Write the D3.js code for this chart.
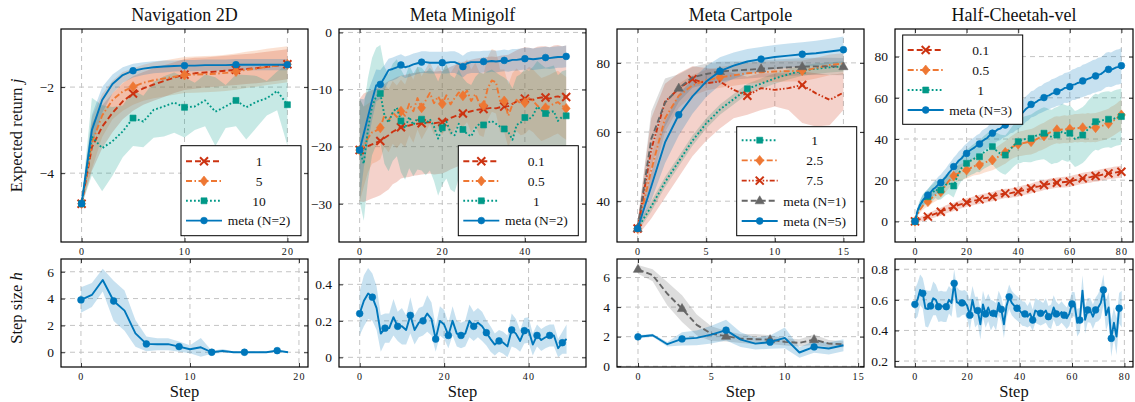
<!DOCTYPE html>
<html lang="en">
<head>
<meta charset="utf-8">
<title>Step size adaptation</title>
<script src="https://cdn.jsdelivr.net/npm/d3@7"></script>
<style>
  body { margin: 0; background: #fff; }
  svg text { font-family: "Liberation Serif", "Times New Roman", serif; fill: #111; }
</style>
</head>
<body>
<svg id="chart" width="1135" height="402"></svg>
<script>
// ---------- data ----------
// Navigation 2D, expected return, steps 0..20
const navSteps = d3.range(21);
const navH1 = [-4.71,-3.40,-2.92,-2.60,-2.33,-2.15,-2.03,-1.94,-1.86,-1.78,-1.71,-1.68,-1.66,-1.64,-1.62,-1.60,-1.58,-1.56,-1.53,-1.50,-1.47];
const navH1Sd = [0.05,0.55,0.5,0.45,0.42,0.4,0.38,0.38,0.37,0.36,0.36,0.36,0.35,0.35,0.35,0.35,0.35,0.35,0.35,0.35,0.35];
const navH5 = [-4.71,-3.30,-2.66,-2.30,-2.10,-1.99,-1.90,-1.84,-1.80,-1.76,-1.72,-1.71,-1.70,-1.69,-1.67,-1.64,-1.60,-1.57,-1.53,-1.50,-1.47];
const navH5Sd = [0.05,0.6,0.5,0.45,0.45,0.42,0.42,0.42,0.42,0.42,0.42,0.42,0.42,0.42,0.42,0.42,0.42,0.42,0.42,0.42,0.42];
const navH10 = [-4.71,-3.15,-3.42,-3.26,-3.03,-2.72,-2.80,-2.53,-2.45,-2.36,-2.47,-2.45,-2.31,-2.57,-2.45,-2.31,-2.47,-2.34,-2.26,-2.09,-2.41];
const navH10Sd = [0.05,0.9,1.0,0.8,0.6,0.65,0.6,0.65,0.7,0.7,0.7,0.55,0.6,0.8,0.5,0.6,0.75,0.6,0.4,0.45,0.95];
const navMeta = [-4.71,-3.00,-2.30,-1.93,-1.72,-1.62,-1.57,-1.54,-1.52,-1.51,-1.50,-1.50,-1.49,-1.49,-1.49,-1.48,-1.48,-1.48,-1.48,-1.48,-1.48];
const navMetaSd = [0.08,0.35,0.3,0.22,0.18,0.16,0.15,0.14,0.14,0.13,0.13,0.13,0.13,0.13,0.13,0.13,0.13,0.13,0.13,0.13,0.13];

// Meta Minigolf, expected return, steps 0..50
const golfSteps = d3.range(51);
const golfH01 = [-20.6,-20.2,-19.9,-19.6,-19.3,-19.0,-18.5,-18.0,-17.4,-17.0,-16.6,-16.4,-16.3,-16.1,-16.0,-15.9,-15.8,-15.7,-15.9,-15.8,-15.7,-15.4,-15.0,-14.7,-14.4,-14.2,-14.0,-13.8,-13.6,-13.5,-13.4,-13.3,-13.2,-13.3,-13.1,-13.0,-12.9,-12.5,-12.1,-11.8,-11.6,-11.7,-11.8,-11.5,-11.4,-11.4,-11.6,-11.3,-11.2,-11.4,-11.3];
const golfH01Sd = [9,9.5,9.5,9.5,9.5,9.5,9.5,9.5,9.2,9.2,9,9,9,9,9,9,9,9,9,9,9,9,9,9,9,9,9,9,9,9,9,9,9,9,9,9,9,9,9,9,9,9,9,9,9,9,9,9,9,9,9];
const golfH05 = [-20.6,-20.0,-18.5,-17.5,-17.2,-16.7,-14.5,-15.5,-14.0,-14.8,-13.8,-14.6,-12.5,-13.8,-11.5,-13.2,-11.9,-10.6,-12.4,-11.2,-12.5,-11.0,-12.6,-11.5,-10.5,-11.1,-10.2,-12.0,-10.8,-12.5,-12.8,-9.8,-8.4,-8.7,-12.0,-12.0,-14.6,-12.6,-11.8,-12.5,-12.3,-11.5,-12.0,-12.8,-13.5,-13.2,-12.9,-12.5,-12.2,-12.8,-13.3];
const golfH05Sd = [9,7,6,5.5,5.5,5.5,5.5,5.5,5.5,5.5,5.5,5.5,5.5,5.5,5.5,5.5,5.5,5.5,5.5,5.5,5.5,5.5,5.5,5.5,5.5,5.5,5.5,5.5,5.5,5.5,5.5,5.5,5.5,5.5,5.5,5.5,5.5,5.5,5.5,5.5,5.5,5.5,5.5,5.5,5.5,5.5,5.5,5.5,5.5,5.5,5.5];
const golfH1 = [-20.6,-23.0,-17.0,-13.0,-11.2,-10.7,-14.5,-15.8,-14.0,-13.2,-15.5,-16.8,-14.8,-16.2,-15.0,-15.2,-16.0,-15.2,-16.5,-18.6,-16.7,-15.6,-17.5,-18.0,-16.0,-17.0,-17.8,-18.2,-16.8,-16.0,-16.2,-15.8,-15.5,-16.0,-16.5,-16.9,-17.5,-18.8,-16.2,-15.8,-14.9,-15.2,-14.5,-13.0,-13.6,-14.2,-14.0,-13.8,-15.5,-14.8,-14.6];
const golfH1Sd = [9,10,9,8.5,8.5,8.5,8.5,8.5,8.5,8.5,9,9,9,9,9,9,9,9,9.5,10,10,10,10,10,9.5,9,9,9,9,9,9,9,9,9,9,9,9,9,8.5,8.5,8.5,8.5,8.5,8,8,8,8,8,8,8,8];
const golfMeta = [-20.6,-17.7,-14.8,-11.9,-9.3,-9.1,-7.9,-6.6,-6.4,-6.1,-5.7,-6.1,-5.9,-5.6,-5.4,-5.2,-5.2,-5.3,-5.3,-5.3,-5.3,-5.3,-5.2,-5.2,-5.5,-6.0,-5.4,-5.2,-5.2,-5.2,-5.1,-5.1,-5.0,-5.1,-5.0,-4.9,-5.0,-4.8,-4.8,-4.7,-4.6,-4.6,-4.7,-4.6,-4.5,-4.4,-4.5,-4.4,-4.3,-4.3,-4.2];
const golfMetaSd = [9,6,4.5,3.5,2.8,2.5,2.2,2,2,2,1.9,1.9,1.9,1.9,1.9,1.9,1.9,1.9,1.9,1.9,1.9,1.9,1.9,1.9,1.9,1.9,1.9,1.9,1.9,1.9,1.9,1.9,1.9,1.9,1.9,1.9,1.9,1.9,1.9,1.9,1.9,1.9,1.9,1.9,1.9,1.9,1.9,1.9,1.9,1.9,1.9];

// Meta Cartpole, expected return, steps 0..15
const cartSteps = d3.range(16);
const cartH1 = [32.1,38.5,45.5,51.5,57.5,62.5,66.5,69.5,72.5,74.0,75.5,76.7,77.8,78.3,78.7,79.0];
const cartH1Sd = [1,1.5,1.5,1.5,1.5,1.5,1.5,1.5,1.5,1.5,1.5,1.5,1.5,1.5,1.5,1.5];
const cartH25 = [32.1,49.0,64.0,70.5,73.5,75.0,75.8,76.4,77.0,77.3,77.5,77.6,77.7,78.5,79.4,79.8];
const cartH25Sd = [1,4,4,3.5,3,3,3,3,3,3,3,3,3,3,3,3];
const cartH75 = [32.1,55.0,68.8,72.5,75.3,74.1,74.6,72.2,70.5,72.7,72.2,72.7,73.6,71.2,69.3,71.4];
const cartH75Lo = [30,35,41,47,53,57.5,61,64,65,66.4,67.4,66.4,62.6,61.6,62,66.4];
const cartH75Hi = [34,64,74,77,79,78.5,78,77,76,77,77,77,77.5,77,76.5,77];
const cartMeta1 = [32.1,58.0,68.5,72.7,75.8,76.8,77.5,77.8,78.0,78.3,78.5,78.7,78.9,79.0,79.0,78.9];
const cartMeta1Sd = [1.5,8,7,4,3,3,2.8,2.6,2.5,2.5,2.5,2.5,2.5,2.5,2.5,2.5];
const cartMeta5 = [32.1,44.3,57.0,65.0,70.3,74.6,77.6,79.2,80.4,81.1,81.7,82.1,82.5,82.8,83.3,83.8];
const cartMeta5Sd = [1,4,6,6,5,4.5,4,3.8,3.6,3.5,3.5,3.5,3.5,3.6,3.7,3.8];

// Half-Cheetah-vel, expected return, steps 0..80
const cheeSteps = d3.range(81);
const cheeH01 = [0,0.6,1.1,1.5,2.0,2.3,2.9,3.3,3.8,4.2,4.7,5.3,5.8,6.3,6.6,7.1,7.6,8.0,8.4,8.6,9.2,9.4,9.8,10.1,10.3,10.7,11.1,11.3,11.5,11.8,12.0,12.4,12.8,13.0,13.3,13.6,13.5,13.7,14.0,14.1,14.4,14.8,15.1,15.4,15.6,16.0,16.5,16.8,17.0,17.3,17.7,17.9,18.2,18.4,18.6,18.8,18.9,19.0,19.1,19.2,19.3,19.7,20.0,20.3,20.6,20.9,21.1,21.3,21.5,21.8,22.0,22.2,22.5,22.8,23.0,23.3,23.4,23.6,23.8,24.0,24.1];
const cheeH01Sd = [0.5,1,1.2,1.3,1.4,1.5,1.6,1.7,1.8,1.8,1.9,1.9,2,2,2,2,2,2,2,2,2.1,2.1,2.1,2.1,2.1,2.2,2.2,2.2,2.2,2.2,2.2,2.3,2.3,2.3,2.3,2.3,2.3,2.3,2.3,2.4,2.4,2.4,2.4,2.4,2.4,2.4,2.4,2.5,2.5,2.5,2.5,2.5,2.5,2.5,2.5,2.5,2.5,2.6,2.6,2.6,2.6,2.6,2.6,2.6,2.6,2.7,2.7,2.7,2.7,2.7,2.7,2.8,2.8,2.8,2.8,2.8,2.8,2.9,2.9,2.9,2.9];
const cheeH05 = [0,3.5,5.8,7.5,8.8,9.6,10.8,11.9,12.8,13.7,14.4,16.0,17.8,19.5,20.8,22.0,22.8,23.5,24.0,24.5,24.9,25.5,26.2,26.8,27.0,27.4,28.0,28.5,29.0,29.5,29.8,30.5,31.2,32.0,32.8,33.5,34.5,35.5,36.3,37.0,37.5,37.8,38.0,38.3,38.5,38.7,39.2,39.8,40.5,41.0,41.5,42.2,43.0,43.6,44.2,44.5,44.3,44.6,44.8,44.6,44.8,45.0,45.3,45.2,45.4,45.5,45.3,45.6,45.4,45.5,45.5,45.9,46.2,46.6,47.0,47.5,48.3,49.0,49.8,50.8,51.7];
const cheeH05Sd = [0.5,1.2,1.6,2,2.2,2.5,2.7,2.9,3,3.1,3.2,3.3,3.4,3.5,3.6,3.7,3.8,3.9,4,4,4.1,4.2,4.3,4.4,4.5,4.6,4.7,4.8,4.9,5,5,5.1,5.2,5.3,5.4,5.5,5.5,5.6,5.7,5.8,5.9,6,6,6.1,6.1,6.2,6.2,6.3,6.3,6.4,6.4,6.5,6.5,6.5,6.6,6.6,6.6,6.7,6.7,6.7,6.8,6.8,6.8,6.9,6.9,6.9,7,7,7,7,7.1,7.1,7.1,7.2,7.2,7.2,7.3,7.3,7.3,7.4,7.4];
const cheeH1 = [0,5.0,8.0,10.0,11.3,12.0,13.5,14.2,15.5,14.8,15.2,16.5,17.8,18.5,17.9,17.2,20.5,23.4,25.8,27.0,28.2,29.0,29.8,30.5,31.5,31.4,32.8,33.8,34.6,35.5,36.3,35.0,33.8,33.0,32.5,32.2,33.5,35.0,36.5,37.8,38.7,39.2,39.8,40.0,40.1,40.3,41.0,41.6,42.0,42.5,42.8,42.2,41.5,41.0,41.6,41.9,42.5,43.5,43.0,42.5,42.8,41.5,40.0,40.5,41.2,41.9,43.2,44.8,46.2,47.5,48.4,48.0,48.8,49.2,49.5,49.6,49.2,49.8,50.3,50.6,50.9];
const cheeH1Sd = [0.5,2,2.5,3,3.2,3.5,3.8,4,4.2,4.4,4.6,4.8,5,5.2,5.4,5.6,5.8,6,6.2,6.4,6.6,6.8,7,7.2,7.4,7.6,7.8,8,8.2,8.4,8.6,8.8,9,9.2,9.4,9.6,9.8,10,10.2,10.4,10.6,10.8,11,11.2,11.4,11.6,11.8,12,12.2,12.4,12.6,12.8,13,13.2,13.4,13.6,13.6,13.6,13.6,13.6,13.6,13.6,13.6,13.6,13.6,13.6,13.6,13.6,13.6,13.6,13.6,13.6,13.6,13.6,13.6,13.6,13.6,13.6,13.6,13.6,13.6];
const cheeMeta = [0,5.2,8.1,10.2,11.6,12.8,14.0,15.6,16.5,17.9,18.8,20.3,21.6,23.4,24.8,26.6,27.9,29.6,30.5,32.1,33.0,34.2,35.0,35.8,36.9,37.6,38.9,39.8,40.5,41.9,42.8,43.5,44.6,45.0,46.1,46.8,47.5,48.6,49.0,50.1,50.7,52.0,53.1,54.6,55.5,56.8,57.2,58.0,58.9,59.3,60.1,60.8,61.2,62.0,62.4,63.0,63.5,63.9,64.8,64.9,65.4,66.3,66.5,67.2,67.5,68.2,68.6,69.2,69.6,70.3,70.6,71.2,71.5,72.4,73.5,73.8,73.6,74.2,74.8,75.0,75.6];
const cheeMetaSd = [0.5,1.5,2.2,2.6,2.8,3,3.2,3.4,3.6,3.8,4,4,4.2,4.2,4.4,4.4,4.5,4.5,4.6,4.6,4.8,4.8,5,5,5,5,5.2,5.2,5.2,5.4,5.4,5.4,5.6,5.6,5.6,5.8,5.8,5.8,6,6,6,6.2,6.2,6.2,6.4,6.4,6.4,6.6,6.6,6.6,6.8,6.8,6.8,7,7,7,7.2,7.2,7.2,7.4,7.4,7.4,7.6,7.6,7.6,7.8,7.8,7.8,8,8,8,8.2,8.2,8.2,8.4,8.4,8.4,8.5,8.5,8.6,8.6];

// step size h (bottom row)
const navHSteps = d3.range(20);
const navStep = [3.9,4.27,5.38,3.82,3.1,1.41,0.62,0.6,0.6,0.42,0.22,0.37,0.0,0.1,0.0,0.0,0.0,0.0,0.12,0.0];
const navStepSd = [0.95,0.9,0.85,1.5,1.5,1.0,0.55,0.45,0.45,0.38,0.3,0.7,0.12,0.15,0.06,0.05,0.05,0.05,0.08,0.05];

const golfHSteps = d3.range(50);
const golfStep = [0.24,0.31,0.35,0.33,0.27,0.13,0.16,0.16,0.22,0.17,0.17,0.15,0.23,0.15,0.19,0.20,0.24,0.21,0.10,0.20,0.18,0.12,0.20,0.13,0.12,0.13,0.20,0.17,0.19,0.17,0.135,0.10,0.07,0.09,0.08,0.06,0.15,0.13,0.09,0.146,0.15,0.07,0.12,0.095,0.11,0.12,0.12,0.05,0.08,0.10];
const golfStepSd = [0.12,0.14,0.14,0.13,0.12,0.1,0.08,0.08,0.1,0.08,0.1,0.08,0.1,0.08,0.08,0.08,0.1,0.09,0.07,0.08,0.08,0.07,0.08,0.07,0.07,0.07,0.09,0.08,0.08,0.08,0.07,0.07,0.06,0.06,0.06,0.06,0.09,0.08,0.06,0.07,0.07,0.06,0.06,0.06,0.06,0.06,0.06,0.05,0.06,0.08];

const cartHSteps = d3.range(15);
const cartStep1 = [6.55,6.15,4.9,3.9,2.8,2.2,2.03,1.87,1.83,1.8,1.65,1.58,1.8,1.53,1.49];
const cartStep1Sd = [0.3,0.4,0.8,0.9,0.7,0.5,0.35,0.3,0.35,0.3,0.25,0.25,0.35,0.25,0.2];
const cartStep5 = [1.99,2.1,1.49,1.85,1.92,2.14,2.44,1.8,1.53,1.63,1.92,0.93,1.31,1.2,1.42];
const cartStep5Sd = [0.1,0.1,0.15,0.45,0.5,0.6,0.7,0.5,0.4,0.45,0.7,0.35,0.4,0.4,0.4];

const cheeHSteps = d3.range(80);
const cheeStep = [0.571,0.60,0.665,0.643,0.545,0.54,0.56,0.61,0.60,0.555,0.56,0.555,0.555,0.60,0.58,0.708,0.585,0.575,0.58,0.585,0.56,0.50,0.60,0.52,0.53,0.44,0.57,0.508,0.55,0.50,0.512,0.49,0.58,0.538,0.44,0.56,0.62,0.58,0.56,0.545,0.53,0.51,0.508,0.49,0.51,0.468,0.53,0.52,0.512,0.51,0.53,0.49,0.49,0.55,0.508,0.50,0.52,0.50,0.48,0.51,0.573,0.57,0.45,0.468,0.66,0.47,0.534,0.53,0.49,0.534,0.55,0.58,0.665,0.50,0.55,0.348,0.45,0.36,0.545,0.54];
const cheeStepSd = [0.1,0.11,0.1,0.1,0.12,0.12,0.1,0.11,0.1,0.1,0.1,0.1,0.1,0.09,0.09,0.09,0.1,0.09,0.08,0.08,0.09,0.1,0.09,0.1,0.09,0.1,0.09,0.09,0.09,0.1,0.08,0.09,0.08,0.08,0.09,0.08,0.08,0.08,0.08,0.08,0.08,0.08,0.08,0.07,0.08,0.07,0.08,0.08,0.08,0.07,0.08,0.07,0.08,0.08,0.08,0.07,0.07,0.07,0.07,0.08,0.08,0.08,0.09,0.08,0.1,0.09,0.08,0.08,0.08,0.08,0.09,0.1,0.1,0.1,0.1,0.12,0.1,0.12,0.1,0.12];

// ---------- look ----------
const SERIF = "'Liberation Serif', 'Times New Roman', serif";
const COL = { blue: "#0077bb", teal: "#009988", orange: "#ee7733", red: "#cc3311", grey: "#666666" };
const DASH = { solid: null, dashed: "6,3", dashdot: "6,2.5,1.5,2.5", dotted: "1.8,2.2", dashdotdot: "5,2,1.5,2,1.5,2" };

const svg = d3.select("#chart");
const cols = [[61, 308], [339, 586], [617, 864], [895, 1133]];
const topRow = [29, 242], botRow = [259, 367];
const fmt = v => (v < 0 ? "\u2212" : "") + Math.abs(v);

function markerPath(type) {
  if (type === "x") return "M-4,-4L4,4M-4,4L4,-4";
  if (type === "diamond") return "M0,-5L4,0L0,5L-4,0Z";
  if (type === "square") return "M-3,-3L3,-3L3,3L-3,3Z";
  if (type === "triangle") return "M0,-5L4.6,3L-4.6,3Z";
  return d3.symbol(d3.symbolCircle, 36)();
}
function drawMarker(g, type, cx, cy, color) {
  const p = g.append("path").attr("d", markerPath(type)).attr("transform", `translate(${cx},${cy})`);
  if (type === "x") p.attr("fill", "none").attr("stroke", color).attr("stroke-width", 2);
  else p.attr("fill", color).attr("stroke", color).attr("stroke-width", 0.6);
}

let clipId = 0;
function drawPanel(p) {
  const [x0, x1] = cols[p.col];
  const [y0, y1] = p.row === "top" ? topRow : botRow;
  const x = d3.scaleLinear().domain(p.xDom).range([x0, x1]);
  const y = d3.scaleLinear().domain(p.yDom).range([y1, y0]);
  const g = svg.append("g");

  const id = "clip" + (clipId++);
  svg.append("clipPath").attr("id", id).append("rect")
    .attr("x", x0).attr("y", y0).attr("width", x1 - x0).attr("height", y1 - y0);

  // grid
  g.append("g").selectAll("line").data(p.xTicks).join("line")
    .attr("x1", d => x(d)).attr("x2", d => x(d)).attr("y1", y0).attr("y2", y1)
    .attr("stroke", "#c4c4c4").attr("stroke-dasharray", "5,4");
  g.append("g").selectAll("line").data(p.yTicks).join("line")
    .attr("y1", d => y(d)).attr("y2", d => y(d)).attr("x1", x0).attr("x2", x1)
    .attr("stroke", "#c4c4c4").attr("stroke-dasharray", "5,4");

  const plot = g.append("g").attr("clip-path", `url(#${id})`);
  // bands
  p.series.forEach(s => {
    const lo = s.lo || s.y.map((v, i) => v - s.sd[i]);
    const hi = s.hi || s.y.map((v, i) => v + s.sd[i]);
    const area = d3.area().x((d, i) => x(s.x[i])).y0((d, i) => y(lo[i])).y1((d, i) => y(hi[i]));
    plot.append("path").datum(s.y).attr("d", area)
      .attr("fill", s.band || s.color).attr("fill-opacity", 0.22);
  });
  // lines and marks
  p.series.forEach(s => {
    const line = d3.line().x((d, i) => x(s.x[i])).y(d => y(d));
    plot.append("path").datum(s.y).attr("d", line)
      .attr("fill", "none").attr("stroke", s.color).attr("stroke-width", 1.9)
      .attr("stroke-linejoin", "round")
      .attr("stroke-dasharray", DASH[s.dash]);
    const marks = s.marks || s.y.map((d, i) => i).filter(i => i % s.every === 0);
    marks.forEach(i => drawMarker(plot, s.mark, x(s.x[i]), y(s.y[i]), s.color));
  });

  // axes: labels outside left/bottom, short ticks inside on all sides
  const styleAxis = (ax, size) => {
    ax.attr("font-family", SERIF);
    ax.select(".domain").remove();
    ax.selectAll(".tick line").attr("stroke", "#333");
    ax.selectAll("text").attr("font-family", SERIF).attr("font-size", size).attr("fill", "#111");
  };
  const ay = g.append("g").attr("transform", `translate(${x0},0)`)
    .call(d3.axisLeft(y).tickValues(p.yTicks).tickSize(-4).tickPadding(7).tickFormat(fmt));
  styleAxis(ay, 13.5);
  const ayr = g.append("g").attr("transform", `translate(${x1},0)`)
    .call(d3.axisRight(y).tickValues(p.yTicks).tickSize(-4).tickFormat(""));
  styleAxis(ayr, 1);
  const ax = g.append("g").attr("transform", `translate(0,${y1})`)
    .call(d3.axisBottom(x).tickValues(p.xTicks).tickSize(-4).tickPadding(6).tickFormat(fmt));
  styleAxis(ax, 10);
  ax.selectAll("text").attr("letter-spacing", "1.2px");
  const axt = g.append("g").attr("transform", `translate(0,${y0})`)
    .call(d3.axisTop(x).tickValues(p.xTicks).tickSize(-4).tickFormat(""));
  styleAxis(axt, 1);

  g.append("rect").attr("x", x0).attr("y", y0).attr("width", x1 - x0).attr("height", y1 - y0)
    .attr("fill", "none").attr("stroke", "#000").attr("stroke-width", 1.2);

  if (p.title) {
    g.append("text").attr("x", (x0 + x1) / 2).attr("y", 21).attr("text-anchor", "middle")
      .attr("font-size", 18).text(p.title);
  }
  if (p.row === "bottom") {
    g.append("text").attr("x", (x0 + x1) / 2).attr("y", 397).attr("text-anchor", "middle")
      .attr("font-size", 16.5).text("Step");
  }

  if (p.legend) {
    const L = p.legend;
    const lg = g.append("g");
    lg.append("rect").attr("x", L.x).attr("y", L.y).attr("width", 120).attr("height", L.h)
      .attr("fill", "#fff").attr("stroke", "#000").attr("stroke-width", 1);
    L.order.forEach((k, j) => {
      const s = p.series[k];
      const ey = L.y + L.first + j * L.gap;
      lg.append("line").attr("x1", L.x + 5).attr("x2", L.x + 41).attr("y1", ey).attr("y2", ey)
        .attr("stroke", s.color).attr("stroke-width", 1.9).attr("stroke-dasharray", DASH[s.dash]);
      drawMarker(lg, s.mark, L.x + 23, ey, s.color);
      lg.append("text").attr("x", L.x + 78).attr("y", ey).attr("dy", "0.35em")
        .attr("text-anchor", "middle").attr("font-size", 13.5).text(s.label);
    });
  }
}

const panels = [
  { title: "Navigation 2D", col: 0, row: "top", xDom: [-2, 22], yDom: [-5.6, -0.65], xTicks: [0, 10, 20], yTicks: [-4, -2],
    series: [
      { label: "1", x: navSteps, y: navH1, sd: navH1Sd, color: COL.red, dash: "dashed", mark: "x", every: 5 },
      { label: "5", x: navSteps, y: navH5, sd: navH5Sd, color: COL.orange, dash: "dashdot", mark: "diamond", every: 5 },
      { label: "10", x: navSteps, y: navH10, sd: navH10Sd, color: COL.teal, dash: "dotted", mark: "square", every: 5 },
      { label: "meta (N=2)", x: navSteps, y: navMeta, sd: navMetaSd, color: COL.blue, dash: "solid", mark: "circle", every: 5 }
    ],
    legend: { x: 181, y: 145.7, h: 90, first: 15.5, gap: 19.8, order: [0, 1, 2, 3] } },
  { title: "Meta Minigolf", col: 1, row: "top", xDom: [-5, 54.8], yDom: [-36.7, 0.6], xTicks: [0, 20, 40], yTicks: [-30, -20, -10, 0],
    series: [
      { label: "0.1", x: golfSteps, y: golfH01, sd: golfH01Sd, color: COL.red, dash: "dashed", mark: "x", every: 5 },
      { label: "0.5", x: golfSteps, y: golfH05, sd: golfH05Sd, color: COL.orange, dash: "dashdot", mark: "diamond", every: 5 },
      { label: "1", x: golfSteps, y: golfH1, sd: golfH1Sd, color: COL.teal, dash: "dotted", mark: "square", every: 5 },
      { label: "meta (N=2)", x: golfSteps, y: golfMeta, sd: golfMetaSd, color: COL.blue, dash: "solid", mark: "circle", every: 5 }
    ],
    legend: { x: 458.3, y: 145.7, h: 90, first: 15.5, gap: 19.8, order: [0, 1, 2, 3] } },
  { title: "Meta Cartpole", col: 2, row: "top", xDom: [-1.5, 16.5], yDom: [28.2, 89.8], xTicks: [0, 5, 10, 15], yTicks: [40, 60, 80],
    series: [
      { label: "1", x: cartSteps, y: cartH1, sd: cartH1Sd, color: COL.teal, dash: "dotted", mark: "square", marks: [0, 8, 12] },
      { label: "2.5", x: cartSteps, y: cartH25, sd: cartH25Sd, color: COL.orange, dash: "dashdot", mark: "diamond", every: 6 },
      { label: "7.5", x: cartSteps, y: cartH75, lo: cartH75Lo, hi: cartH75Hi, color: COL.red, dash: "dashdotdot", mark: "x", every: 4 },
      { label: "meta (N=1)", x: cartSteps, y: cartMeta1, sd: cartMeta1Sd, color: COL.grey, dash: "dashed", mark: "triangle", every: 3 },
      { label: "meta (N=5)", x: cartSteps, y: cartMeta5, sd: cartMeta5Sd, color: COL.blue, dash: "solid", mark: "circle", every: 3 }
    ],
    legend: { x: 736.7, y: 126.7, h: 109, first: 13.5, gap: 20.2, order: [0, 1, 2, 3, 4] } },
  { title: "Half-Cheetah-vel", col: 3, row: "top", xDom: [-7.75, 84.5], yDom: [-10, 93.4], xTicks: [0, 20, 40, 60, 80], yTicks: [0, 20, 40, 60, 80],
    series: [
      { label: "0.1", x: cheeSteps, y: cheeH01, sd: cheeH01Sd, color: COL.red, dash: "dashed", mark: "x", every: 5 },
      { label: "0.5", x: cheeSteps, y: cheeH05, sd: cheeH05Sd, color: COL.orange, dash: "dashdot", mark: "diamond", every: 5 },
      { label: "1", x: cheeSteps, y: cheeH1, sd: cheeH1Sd, color: COL.teal, dash: "dotted", mark: "square", every: 5 },
      { label: "meta (N=3)", x: cheeSteps, y: cheeMeta, sd: cheeMetaSd, color: COL.blue, dash: "solid", mark: "circle", every: 5 }
    ],
    legend: { x: 902.7, y: 35, h: 89.3, first: 15, gap: 20, order: [0, 1, 2, 3] } },

  { col: 0, row: "bottom", xDom: [-1.83, 20.83], yDom: [-1.1, 6.95], xTicks: [0, 10, 20], yTicks: [0, 2, 4, 6],
    series: [{ x: navHSteps, y: navStep, sd: navStepSd, color: COL.blue, dash: "solid", mark: "circle", every: 3 }] },
  { col: 1, row: "bottom", xDom: [-4.9, 53.6], yDom: [-0.053, 0.539], xTicks: [0, 20, 40], yTicks: [0, 0.2, 0.4],
    series: [{ x: golfHSteps, y: golfStep, sd: golfStepSd, color: COL.blue, dash: "solid", mark: "circle", every: 3 }] },
  { col: 2, row: "bottom", xDom: [-1.43, 15.4], yDom: [-0.05, 7.25], xTicks: [0, 5, 10, 15], yTicks: [0, 2, 4, 6],
    series: [
      { x: cartHSteps, y: cartStep1, sd: cartStep1Sd, color: COL.grey, dash: "dashed", mark: "triangle", every: 3 },
      { x: cartHSteps, y: cartStep5, sd: cartStep5Sd, color: COL.blue, dash: "solid", mark: "circle", every: 3 }
    ] },
  { col: 3, row: "bottom", xDom: [-7.6, 83.3], yDom: [0.161, 0.867], xTicks: [0, 20, 40, 60, 80], yTicks: [0.2, 0.4, 0.6, 0.8],
    series: [{ x: cheeHSteps, y: cheeStep, sd: cheeStepSd, color: COL.blue, dash: "solid", mark: "circle", every: 3 }] }
];

panels.forEach(drawPanel);

// y axis titles
const yt1 = svg.append("text").attr("transform", "translate(22,135.5) rotate(-90)")
  .attr("text-anchor", "middle").attr("font-size", 16.5);
yt1.append("tspan").text("Expected return ");
yt1.append("tspan").attr("font-style", "italic").text("j");
const yt2 = svg.append("text").attr("transform", "translate(22,308) rotate(-90)")
  .attr("text-anchor", "middle").attr("font-size", 16.5);
yt2.append("tspan").text("Step size ");
yt2.append("tspan").attr("font-style", "italic").text("h");
</script>
</body>
</html>
